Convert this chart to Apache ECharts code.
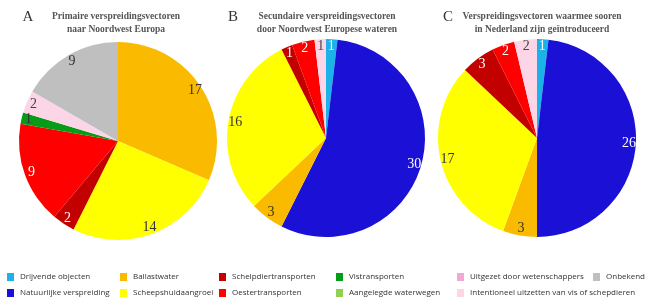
<!DOCTYPE html>
<html>
<head>
<meta charset="utf-8">
<script src="https://cdn.jsdelivr.net/npm/echarts@6/dist/echarts.min.js"></script>
<style>
html,body{margin:0;padding:0;background:#fff;}
#pie-charts{width:646px;height:304px;}
</style>
</head>
<body>
<div id="pie-charts"></div>
<script>
var categories = ['Drijvende objecten', 'Natuurlijke verspreiding', 'Ballastwater', 'Scheepshuidaangroei',
	'Schelpdiertransporten', 'Oestertransporten', 'Vistransporten', 'Aangelegde waterwegen',
	'Uitgezet door wetenschappers', 'Intentioneel uitzetten van vis of schepdieren', 'Onbekend'];
var valuesA = [0, 0, 17, 14, 2, 9, 1, 0, 0, 2, 9];
var valuesB = [1, 30, 3, 16, 1, 2, 0, 0, 0, 1, 0];
var valuesC = [1, 26, 3, 17, 3, 2, 0, 0, 0, 2, 0];
var titles = [
	['A', 'Primaire verspreidingsvectoren\nnaar Noordwest Europa'],
	['B', 'Secundaire verspreidingsvectoren\ndoor Noordwest Europese wateren'],
	['C', 'Verspreidingsvectoren waarmee sooren\nin Nederland zijn geïntroduceerd']
];

var colors = ['#1bb2ea', '#1a10d6', '#f9ba00', '#ffff00', '#c20000', '#fe0000', '#079c17', '#92d050', '#f2a7d6', '#fcd6e6', '#bfbfbf'];
var textColors = ['#fff', '#fff', '#333', '#333', '#fff', '#fff', '#333', '#333', '#333', '#444', '#333'];

pieCharts();

function pieCharts() {
	var myPie = echarts.init(document.getElementById('pie-charts'));
	var R = 99;
	var centers = [[118, 141], [326, 138], [537, 138]];
	var allValues = [valuesA, valuesB, valuesC];
	var series = [];
	// real slices
	allValues.forEach(function(vals, i) {
		series.push({
			type: 'pie',
			center: centers[i],
			radius: [0, R],
			startAngle: 90,
			clockwise: true,
			silent: true,
			label: { show: false },
			labelLine: { show: false },
			itemStyle: { borderWidth: 0 },
			data: categories.map(function(c, k) {
				return { name: c, value: vals[k], itemStyle: { color: colors[k] } };
			})
		});
	});
	// transparent pies, only used to put the numbers near the rim
	allValues.forEach(function(vals, i) {
		var d = [];
		categories.forEach(function(c, k) {
			if (vals[k] > 0) {
				d.push({ name: c, value: vals[k], label: { color: textColors[k] } });
			}
		});
		series.push({
			type: 'pie',
			center: centers[i],
			radius: [0, R * 1.8],
			startAngle: 90,
			clockwise: true,
			silent: true,
			z: 3,
			itemStyle: { color: 'transparent' },
			label: {
				show: true,
				position: 'inside',
				formatter: '{c}',
				fontFamily: 'Liberation Serif',
				fontSize: 14
			},
			labelLine: { show: false },
			data: d
		});
	});

	var legendCols = [[0, 1], [2, 3], [4, 5], [6, 7], [8, 9], [10]];
	var legendX = [7, 120, 219, 336, 457, 593];
	var legends = legendCols.map(function(col, i) {
		return {
			orient: 'vertical',
			left: legendX[i],
			top: 273,
			padding: 0,
			icon: 'rect',
			itemWidth: 7,
			itemHeight: 8,
			itemGap: 8,
			selectedMode: false,
			textStyle: { fontSize: 8, fontFamily: 'Open Sans', color: '#333', padding: [0, 0, 0, 1] },
			data: col.map(function(k) { return categories[k]; })
		};
	});

	var titleX = [116, 327, 542];
	var letterX = [28, 233, 448];
	var graphics = [];
	titles.forEach(function(t, i) {
		graphics.push({
			type: 'text', x: letterX[i], y: 10,
			style: { text: t[0], textAlign: 'center', font: '15px "Liberation Serif"', fill: '#333' }
		});
		graphics.push({
			type: 'text', x: titleX[i], y: 10,
			style: { text: t[1], textAlign: 'center', font: 'bold 9.5px "Liberation Serif"', lineHeight: 13, fill: '#555' }
		});
	});

	var option = {
		animation: false,
		legend: legends,
		graphic: graphics,
		series: series
	};
	myPie.setOption(option);
}
</script>
</body>
</html>
